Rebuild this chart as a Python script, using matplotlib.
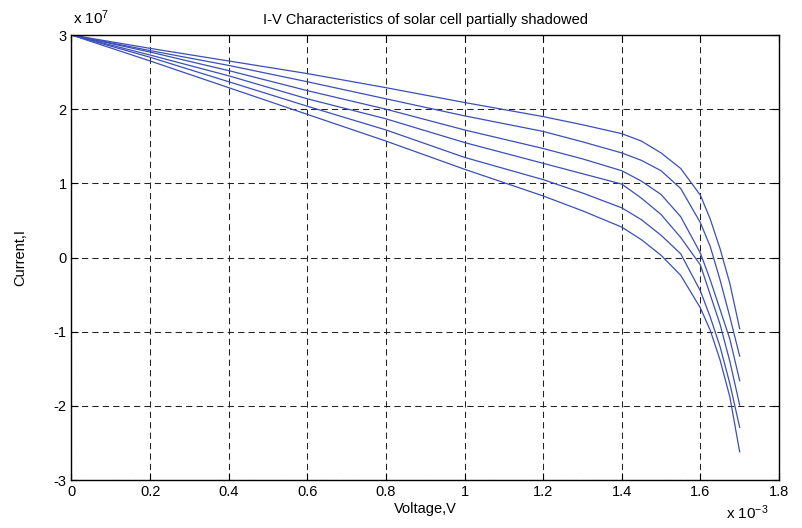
import numpy as np
import matplotlib
matplotlib.use('Agg')
import matplotlib.pyplot as plt
from matplotlib.ticker import FuncFormatter

plt.rcParams['font.family'] = ['Liberation Sans', 'DejaVu Sans']

# voltage samples (x 1e-3 V)
volt = [0, 0.2, 0.4, 0.6, 0.8, 1.0, 1.2, 1.3, 1.4, 1.45, 1.5, 1.55, 1.6, 1.625, 1.65, 1.675, 1.7]

# current of each curve (x 1e7), top curve first
cur1 = [3.0, 2.82, 2.65, 2.48, 2.29, 2.09, 1.90, 1.79, 1.67, 1.57, 1.41, 1.20, 0.84, 0.52, 0.12, -0.35, -0.96]
cur2 = [3.0, 2.79, 2.59, 2.37, 2.14, 1.91, 1.70, 1.56, 1.41, 1.31, 1.17, 0.93, 0.47, 0.15, -0.30, -0.80, -1.33]
cur3 = [3.0, 2.77, 2.52, 2.25, 2.00, 1.72, 1.47, 1.33, 1.17, 1.03, 0.85, 0.55, 0.06, -0.30, -0.70, -1.10, -1.66]
cur4 = [3.0, 2.73, 2.45, 2.14, 1.87, 1.55, 1.27, 1.13, 0.99, 0.80, 0.58, 0.27, -0.10, -0.50, -0.90, -1.40, -1.99]
cur5 = [3.0, 2.70, 2.37, 2.04, 1.72, 1.35, 1.05, 0.87, 0.67, 0.51, 0.30, 0.05, -0.45, -0.80, -1.20, -1.70, -2.29]
cur6 = [3.0, 2.65, 2.29, 1.93, 1.57, 1.19, 0.83, 0.63, 0.41, 0.24, 0.03, -0.24, -0.68, -0.98, -1.38, -1.88, -2.62]

xticks = [0, 0.2, 0.4, 0.6, 0.8, 1.0, 1.2, 1.4, 1.6, 1.8]
yticks = [-3, -2, -1, 0, 1, 2, 3]

fig = plt.figure(figsize=(8.02, 5.28), dpi=100)
ax = fig.add_axes([0.0891, 0.0909, 0.8822, 0.8428])

v = np.array(volt) * 1e-3
for c in [cur1, cur2, cur3, cur4, cur5, cur6]:
    ax.plot(v, np.array(c) * 1e7, color='#3a4fb8', lw=0.9)

ax.set_xlim(0, 1.8e-3)
ax.set_ylim(-3e7, 3e7)
ax.set_xticks(np.array(xticks) * 1e-3)
ax.set_yticks(np.array(yticks) * 1e7)
ax.xaxis.set_major_formatter(FuncFormatter(lambda x, p: '%g' % round(x / 1e-3, 6)))
ax.yaxis.set_major_formatter(FuncFormatter(lambda y, p: '%g' % round(y / 1e7, 6)))

ax.grid(True, color='#222222', linestyle=(0, (6, 4)), lw=0.75)
ax.tick_params(direction='in', top=True, right=True, length=5, labelsize=10.5,
               width=0.8, colors='black')
for s in ax.spines.values():
    s.set_linewidth(1.0)
    s.set_color('black')

ax.set_title('I-V Characteristics of solar cell partially shadowed', fontsize=10.5, pad=8)
ax.set_xlabel('Voltage,V', fontsize=10.5, labelpad=2)
ax.set_ylabel('Current,I', fontsize=10.5, labelpad=19)

fig.text(0.091, 0.948, r'x $\mathregular{10^{7}}$', fontsize=11, ha='left', va='bottom')
fig.text(0.905, 0.012, r'x $\mathregular{10^{-3}}$', fontsize=11, ha='left', va='bottom')

fig.savefig('out.png', dpi=100)
